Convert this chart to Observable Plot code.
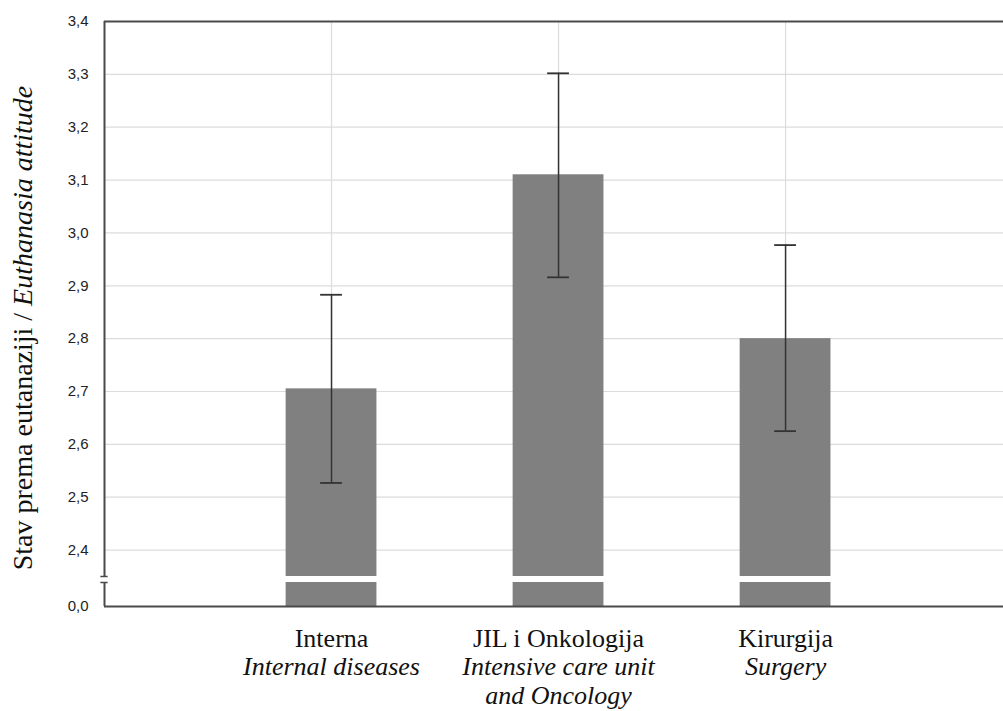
<!DOCTYPE html>
<html>
<head>
<meta charset="utf-8">
<script src="https://cdn.jsdelivr.net/npm/d3@7"></script>
<script src="https://cdn.jsdelivr.net/npm/@observablehq/plot@0.6"></script>
<style>
  html, body { margin: 0; padding: 0; background: #fff; }
  #chart svg { display: block; }
</style>
</head>
<body>
<div id="chart"></div>
<script>
const categories = ["Interna", "JIL i Onkologija", "Kirurgija"];
const englishLabels = ["Internal diseases", "Intensive care unit\nand Oncology", "Surgery"];
const positions = [1, 2, 3];
const means = [2.705, 3.11, 2.80];
const upper = [2.883, 3.302, 2.977];
const lower = [2.527, 2.916, 2.625];
const yTicks = [0, 2.4, 2.5, 2.6, 2.7, 2.8, 2.9, 3.0, 3.1, 3.2, 3.3, 3.4];
const yTickLabels = ["0,0", "2,4", "2,5", "2,6", "2,7", "2,8", "2,9", "3,0", "3,1", "3,2", "3,3", "3,4"];
const gridValues = [2.4, 2.5, 2.6, 2.7, 2.8, 2.9, 3.0, 3.1, 3.2, 3.3];
const breakLow = 2.1;
const breakHigh = 2.35;
const yTop = 3.4;
const xMax = 3.96;
const barHalf = 0.2;
const capHalf = 0.048;

const data = categories.map((c, i) => ({
  pos: positions[i], label: c, en: englishLabels[i],
  mean: means[i], hi: upper[i], lo: lower[i]
}));

const axisColor = "#4a4a4a";
const serif = "Liberation Serif, Times New Roman, serif";

const plot = Plot.plot({
  width: 1003,
  height: 711,
  marginTop: 21,
  marginLeft: 104,
  marginRight: 0,
  marginBottom: 105,
  style: { background: "#fff", overflow: "visible" },
  x: { type: "linear", domain: [0, xMax] },
  y: { type: "linear", domain: [0, breakLow, breakHigh, yTop], range: [606, 582, 576, 21] },
  marks: [
    Plot.ruleY(gridValues, { x1: 0, x2: xMax, stroke: "#dcdcdc", strokeWidth: 1.2 }),
    Plot.ruleX(positions, { y1: 0, y2: yTop, stroke: "#dcdcdc", strokeWidth: 1.2 }),
    Plot.rectY(data, { x1: d => d.pos - barHalf, x2: d => d.pos + barHalf, y1: 0, y2: "mean", fill: "#808080" }),
    Plot.rectY(data, { x1: d => d.pos - barHalf - 0.01, x2: d => d.pos + barHalf + 0.01, y1: breakLow, y2: breakHigh, fill: "#fff" }),
    Plot.ruleX(data, { x: "pos", y1: "lo", y2: "hi", stroke: "#333", strokeWidth: 1.5 }),
    Plot.ruleY(data, { y: "hi", x1: d => d.pos - capHalf, x2: d => d.pos + capHalf, stroke: "#333", strokeWidth: 1.8 }),
    Plot.ruleY(data, { y: "lo", x1: d => d.pos - capHalf, x2: d => d.pos + capHalf, stroke: "#333", strokeWidth: 1.8 }),
    Plot.ruleY([yTop], { x1: 0, x2: xMax, stroke: axisColor, strokeWidth: 2 }),
    Plot.ruleY([0], { x1: 0, x2: xMax, stroke: axisColor, strokeWidth: 2 }),
    Plot.ruleX([0], { y1: 0, y2: breakLow, stroke: axisColor, strokeWidth: 2 }),
    Plot.ruleX([0], { y1: breakHigh, y2: yTop, stroke: axisColor, strokeWidth: 2 }),
    Plot.ruleY([breakLow, breakHigh], { x1: -0.016, x2: 0.016, stroke: axisColor, strokeWidth: 1.5 }),
    Plot.axisY({
      ticks: yTicks,
      tickFormat: d => yTickLabels[yTicks.indexOf(d)],
      tickSize: 0,
      tickPadding: 16,
      fontSize: 15,
      fontFamily: "Liberation Sans, Arial, sans-serif",
      fill: "#222",
      label: null
    }),
    Plot.axisX({
      ticks: positions,
      tickFormat: d => categories[positions.indexOf(d)],
      tickSize: 0,
      tickPadding: 22,
      fontSize: 26,
      fontFamily: serif,
      fill: "#111",
      label: null
    }),
    Plot.axisX({
      ticks: positions,
      tickFormat: d => englishLabels[positions.indexOf(d)],
      tickSize: 0,
      tickPadding: 49,
      fontSize: 26,
      lineHeight: 1.08,
      fontStyle: "italic",
      fontFamily: serif,
      fill: "#111",
      label: null
    })
  ]
});

const svg = d3.select(plot);
const title = svg.append("text")
  .attr("transform", "translate(32,328) rotate(-90)")
  .attr("text-anchor", "middle")
  .attr("font-family", serif)
  .attr("font-size", 28)
  .attr("fill", "#111");
title.append("tspan").text("Stav prema eutanaziji / ");
title.append("tspan").attr("font-style", "italic").text("Euthanasia attitude");

document.getElementById("chart").appendChild(plot);
</script>
</body>
</html>
